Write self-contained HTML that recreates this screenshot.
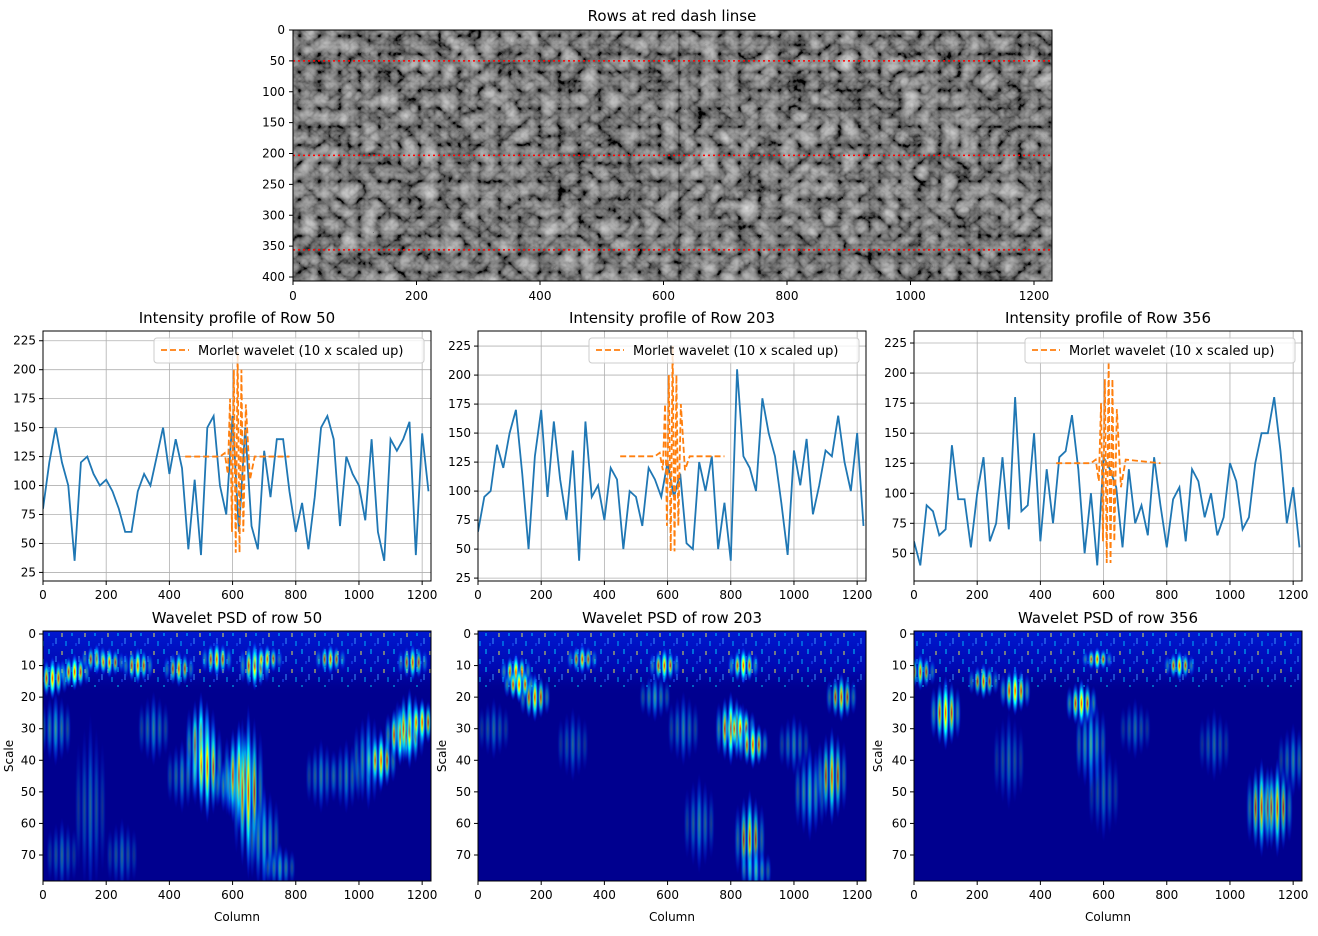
<!DOCTYPE html>
<html><head><meta charset="utf-8">
<style>
body{margin:0;background:#fff;font-family:"Liberation Sans","DejaVu Sans",sans-serif;}
svg text{font-family:"DejaVu Sans","Liberation Sans",sans-serif;}
</style></head>
<body>
<svg id="fig" width="1318" height="931" viewBox="0 0 1318 931" xmlns="http://www.w3.org/2000/svg">
<defs>
<filter id="rocks" x="0" y="0" width="100%" height="100%">
<feTurbulence type="turbulence" baseFrequency="0.05 0.055" numOctaves="3" seed="7" result="t"/>
<feColorMatrix in="t" type="matrix" values="0.33 0.33 0.33 0 0 0.33 0.33 0.33 0 0 0.33 0.33 0.33 0 0 0 0 0 0 1" result="g"/>
<feComponentTransfer in="g"><feFuncR type="linear" slope="1.1" intercept="-0.12"/><feFuncG type="linear" slope="1.1" intercept="-0.12"/><feFuncB type="linear" slope="1.1" intercept="-0.12"/></feComponentTransfer>
</filter>
<radialGradient id="jet"><stop offset="0" stop-color="#ff2000"/><stop offset="0.25" stop-color="#ffff00"/><stop offset="0.5" stop-color="#00ffff"/><stop offset="0.78" stop-color="#0060ff" stop-opacity="0.6"/><stop offset="1" stop-color="#0000ff" stop-opacity="0"/></radialGradient>
<radialGradient id="jetlow"><stop offset="0" stop-color="#80ff80"/><stop offset="0.4" stop-color="#00c0ff"/><stop offset="0.75" stop-color="#0040ff" stop-opacity="0.6"/><stop offset="1" stop-color="#0000ff" stop-opacity="0"/></radialGradient>
<linearGradient id="topband" x1="0" y1="0" x2="0" y2="1"><stop offset="0" stop-color="#0018d0"/><stop offset="0.6" stop-color="#0008b0"/><stop offset="1" stop-color="#00008f" stop-opacity="0"/></linearGradient>
<pattern id="speck" width="23" height="18" patternUnits="userSpaceOnUse">
<rect x="2" y="1" width="2" height="5" fill="#00e0ff"/><rect x="9" y="8" width="2" height="6" fill="#40a0ff"/><rect x="15" y="3" width="2" height="4" fill="#ffff40"/><rect x="19" y="11" width="2" height="5" fill="#00c0ff"/><rect x="6" y="13" width="2" height="3" fill="#2060ff"/>
</pattern>
<clipPath id="c1"><rect x="43" y="631" width="388" height="250"/></clipPath>
<clipPath id="c2"><rect x="478" y="631" width="388" height="250"/></clipPath>
<clipPath id="c3"><rect x="914" y="631" width="388" height="250"/></clipPath>
<clipPath id="l1"><rect x="43" y="331" width="388" height="250"/></clipPath>
<clipPath id="l2"><rect x="478" y="331" width="388" height="250"/></clipPath>
<clipPath id="l3"><rect x="914" y="331" width="388" height="250"/></clipPath>
</defs>
</svg>
<script>
const rowIds=[50,203,356];
const cols=[0,20,40,60,80,100,120,140,160,180,200,220,240,260,280,300,320,340,360,380,400,420,440,460,480,500,520,540,560,580,600,620,640,660,680,700,720,740,760,780,800,820,840,860,880,900,920,940,960,980,1000,1020,1040,1060,1080,1100,1120,1140,1160,1180,1200,1220];
const prof50=[80,120,150,120,100,35,120,125,110,100,105,95,80,60,60,95,110,100,125,150,110,140,115,45,105,40,150,160,100,75,160,60,150,65,45,130,90,140,140,95,60,85,45,90,150,160,140,65,125,110,100,70,140,60,35,140,130,140,155,40,145,95];
const prof203=[65,95,100,140,120,150,170,115,50,130,170,95,160,110,75,135,40,160,95,105,75,120,110,50,100,95,70,120,110,95,125,95,115,55,50,125,100,130,50,90,40,205,130,120,100,180,150,130,90,45,135,105,145,80,105,135,130,165,125,100,150,70];
const prof356=[60,40,90,85,65,70,140,95,95,55,100,130,60,75,130,70,180,85,90,150,60,120,75,130,135,165,120,50,100,40,130,120,105,55,120,75,90,65,130,90,55,95,105,60,120,110,80,100,65,80,125,110,70,80,125,150,150,180,135,75,105,55];
const morCols=[450,560,575,585,592,598,604,610,616,622,628,634,642,655,670,780];
const mor50=[125,125,128,110,175,60,200,42,215,42,200,60,170,105,125,125];
const mor203=[130,130,133,118,175,70,200,48,225,48,200,70,175,118,130,130];
const mor356=[125,125,128,110,175,60,195,42,210,42,195,60,170,105,128,125];
// spectrogram streaks: col, scale center, half-height (scale units), intensity
const psd50=[[30,14,7,1],[100,12,6,1],[170,8,5,0.8],[210,9,5,0.8],[300,10,6,0.9],[430,11,6,0.8],[550,8,6,0.9],[670,10,8,1],[710,8,5,0.8],[910,8,5,0.8],[1170,9,6,0.8],[40,30,12,0.6],[150,55,30,0.4],[350,30,12,0.5],[500,36,18,1],[520,42,18,0.9],[590,48,10,0.7],[620,45,18,1],[650,50,28,0.9],[700,65,18,0.7],[750,74,8,0.6],[1030,40,16,0.7],[1070,40,10,0.9],[1130,32,10,1],[1160,30,13,1],[1200,28,8,0.9],[960,45,12,0.5],[60,70,12,0.4],[250,70,12,0.4],[440,45,12,0.5],[880,45,12,0.5]];
const psd203=[[120,12,6,1],[180,20,8,0.9],[330,8,5,0.8],[590,10,6,0.9],[840,10,6,1],[800,30,12,1],[830,30,8,1],[870,35,8,0.9],[860,65,16,0.8],[880,75,8,0.7],[1050,50,16,0.7],[1120,45,16,0.8],[1150,20,8,0.8],[300,35,12,0.4],[650,30,12,0.5],[700,60,16,0.5],[130,16,6,1],[560,20,8,0.6],[1000,35,10,0.5],[50,30,10,0.4]];
const psd356=[[100,25,12,1],[220,15,6,0.8],[320,18,8,1],[530,22,8,1],[560,35,16,0.7],[840,10,5,0.9],[1100,55,16,0.8],[1150,55,16,0.8],[1200,40,12,0.5],[600,50,16,0.4],[300,40,16,0.4],[20,12,6,0.8],[580,8,4,0.9],[700,30,10,0.4],[950,35,12,0.4]];
const profTicksA=[25,50,75,100,125,150,175,200,225];
const profTicksC=[50,75,100,125,150,175,200,225];
const xTicks=[0,200,400,600,800,1000,1200];
const scaleTicks=[0,10,20,30,40,50,60,70];
const imgRowTicks=[0,50,100,150,200,250,300,350,400];

const NS="http://www.w3.org/2000/svg";
const fig=document.getElementById('fig');
function mk(tag,attrs,parent){const e=document.createElementNS(NS,tag);for(const k in attrs)e.setAttribute(k,attrs[k]);(parent||fig).appendChild(e);return e;}
function txt(x,y,s,anchor,size,parent){const t=mk('text',{x:x,y:y,'text-anchor':anchor,'font-size':size||12,fill:'#000'},parent);t.textContent=s;return t;}

// ---- top image ----
const ix=c=>293+c*0.6175, iy=r=>30+r*0.6175;
const img=mk('g',{});


mk('rect',{x:293,y:30,width:759,height:251,fill:'#777',filter:'url(#rocks)'},img);
mk('line',{x1:679,y1:30,x2:679,y2:281,stroke:'#222','stroke-width':1,opacity:0.5},img);
rowIds.forEach(r=>{const l=mk('line',{x1:293,x2:1052,y1:iy(r),y2:iy(r),stroke:'#ff0000','stroke-width':1.5,'stroke-dasharray':'2,3'});

});
mk('rect',{x:293,y:30,width:759,height:251,fill:'none',stroke:'#000','stroke-width':1});
imgRowTicks.forEach(v=>{mk('line',{x1:289,x2:293,y1:iy(v),y2:iy(v),stroke:'#000'});txt(285,iy(v)+4,v,'end',12);});
xTicks.forEach(v=>{mk('line',{x1:ix(v),x2:ix(v),y1:281,y2:285,stroke:'#000'});txt(ix(v),300,v,'middle',12);});
const tt=txt(672,21,'Rows at red dash linse','middle',15);



// ---- profile plots ----
const lefts=[43,478,914];
const profs=[prof50,prof203,prof356];
const mors=[mor50,mor203,mor356];
const yRanges=[[17.6,233.4],[22.5,238],[27,235]];
const ticksets=[profTicksA,profTicksA,profTicksC];
for(let p=0;p<3;p++){
 const L=lefts[p],T=331,W=388,H=250;
 const X=c=>L+c*(W/1228);
 const [y0,y1]=yRanges[p];
 const Y=v=>T+H-(v-y0)/(y1-y0)*H;
 const g=mk('g',{});
 
 
 xTicks.forEach(v=>{mk('line',{x1:X(v),x2:X(v),y1:T,y2:T+H,stroke:'#b0b0b0','stroke-width':0.8},g);mk('line',{x1:X(v),x2:X(v),y1:T+H,y2:T+H+4,stroke:'#000'},g);txt(X(v),T+H+18,v,'middle',12,g);});
 ticksets[p].forEach(v=>{mk('line',{x1:L,x2:L+W,y1:Y(v),y2:Y(v),stroke:'#b0b0b0','stroke-width':0.8},g);mk('line',{x1:L-4,x2:L,y1:Y(v),y2:Y(v),stroke:'#000'},g);txt(L-7,Y(v)+4,v,'end',12,g);});
 const cg=mk('g',{'clip-path':'url(#l'+(p+1)+')'},g);
 const line=mk('polyline',{points:profs[p].map((v,i)=>X(cols[i])+','+Y(v)).join(' '),fill:'none',stroke:'#1f77b4','stroke-width':1.8},cg);
 
 
 const ml=mk('polyline',{points:mors[p].map((v,i)=>X(morCols[i])+','+Y(v)).join(' '),fill:'none',stroke:'#ff7f0e','stroke-width':1.8,'stroke-dasharray':'6,3'},cg);
 
 
 mk('rect',{x:L,y:T,width:W,height:H,fill:'none',stroke:'#000'},g);
 const lg=mk('g',{},g);
 
 
 mk('rect',{x:L+111,y:T+7,width:270,height:25,rx:3,fill:'#fff','fill-opacity':0.8,stroke:'#ccc'},lg);
 mk('line',{x1:L+118,x2:L+146,y1:T+19,y2:T+19,stroke:'#ff7f0e','stroke-width':1.8,'stroke-dasharray':'6,3'},lg);
 txt(L+155,T+24,'Morlet wavelet (10 x scaled up)','start',13,lg);
 const t=txt(L+W/2,T-8,'Intensity profile of Row '+rowIds[p],'middle',15,g);
 
 
}

// ---- PSD plots ----
const psds=[psd50,psd203,psd356];
for(let p=0;p<3;p++){
 const L=lefts[p],T=631,W=388,H=250;
 const X=c=>L+c*(W/1228);
 const S=s=>T+3+s*(221/70);
 const g=mk('g',{});
 
 
 const cg=mk('g',{'clip-path':'url(#c'+(p+1)+')'},g);
 mk('rect',{x:L,y:T,width:W,height:H,fill:'#00008f'},cg);
 mk('rect',{x:L,y:T,width:W,height:65,fill:'url(#topband)'},cg);
 mk('rect',{x:L,y:T+2,width:W,height:54,fill:'url(#speck)',opacity:0.45},cg);
 psds[p].forEach(b=>{const [c,s,h,I]=b;
  for(let k=-2;k<=2;k++){
   const e=mk('ellipse',{cx:X(c)+k*6,cy:S(s),rx:3.5,ry:h*221/70*(1-Math.abs(k)*0.15),fill:I>0.75&&Math.abs(k)<2?'url(#jet)':'url(#jetlow)',opacity:(1-Math.abs(k)*0.25)*I},cg);
   
   
  }});
 mk('rect',{x:L,y:T,width:W,height:H,fill:'none',stroke:'#000'},g);
 xTicks.forEach(v=>{mk('line',{x1:X(v),x2:X(v),y1:T+H,y2:T+H+4,stroke:'#000'},g);txt(X(v),T+H+18,v,'middle',12,g);});
 scaleTicks.forEach(v=>{mk('line',{x1:L-4,x2:L,y1:S(v),y2:S(v),stroke:'#000'},g);txt(L-7,S(v)+4,v,'end',12,g);});
 txt(L+W/2,T-8,'Wavelet PSD of row '+rowIds[p],'middle',15,g);
 txt(L+W/2,T+H+40,'Column','middle',12,g);
 const yl=txt(0,0,'Scale','middle',12,g);
 yl.setAttribute('transform','translate('+(L-30+(p?-2:0))+','+(T+125)+') rotate(-90)');
}
</script>
</body></html>
